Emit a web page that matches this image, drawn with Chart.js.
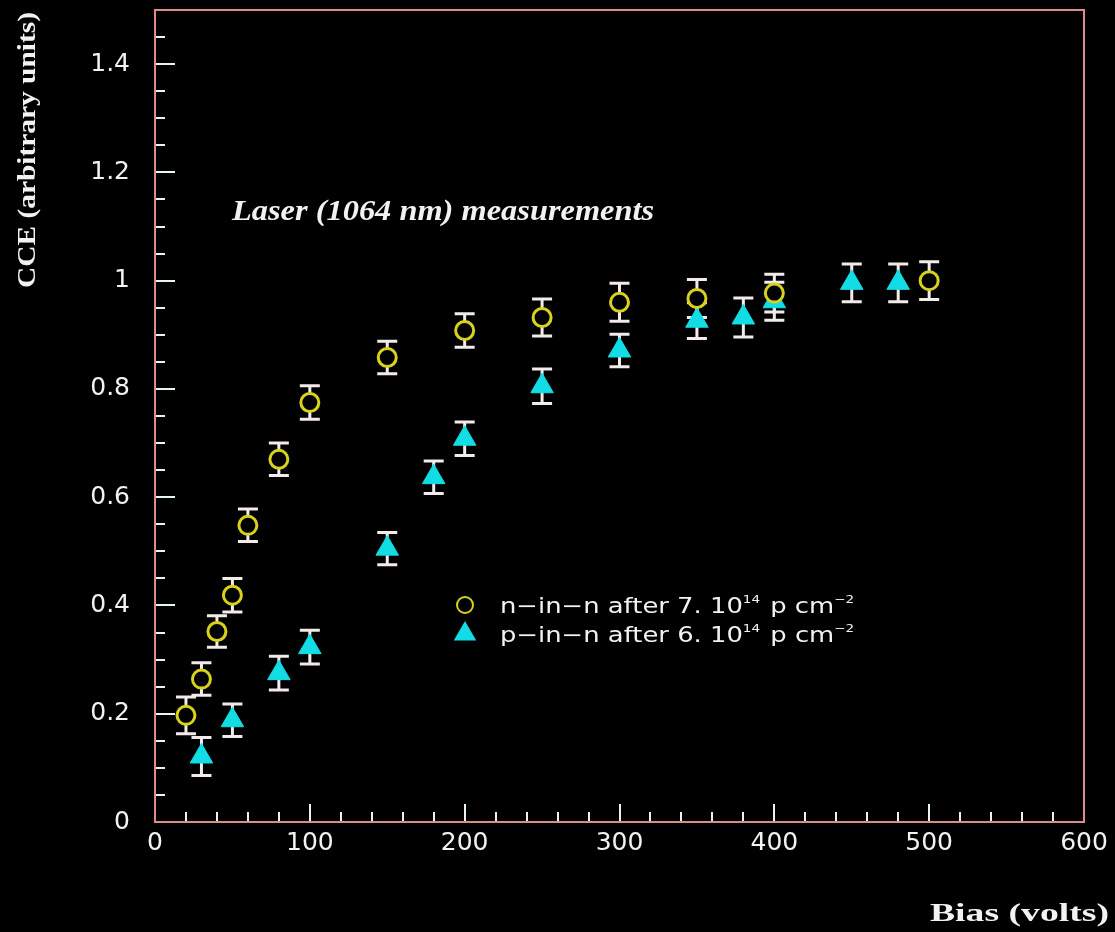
<!DOCTYPE html>
<html>
<head>
<meta charset="utf-8">
<script src="https://cdn.jsdelivr.net/npm/chart.js@4.4.1/dist/chart.umd.min.js"></script>
<style>
html, body { margin: 0; padding: 0; background: #000; }
#wrap { width: 1115px; height: 932px; }
</style>
</head>
<body>
<div id="wrap"><canvas id="cce"></canvas></div>
<script>
// n-in-n detector, after 7e14 p/cm2
var nBias = [20, 30, 40, 50, 60, 80, 100, 150, 200, 250, 300, 350, 400, 500];
var nCCE  = [0.197, 0.264, 0.352, 0.419, 0.548, 0.670, 0.775, 0.858, 0.908, 0.932, 0.960, 0.967, 0.977, 1.000];
var nErr  = [0.034, 0.030, 0.029, 0.031, 0.030, 0.030, 0.031, 0.030, 0.031, 0.034, 0.035, 0.035, 0.035, 0.035];

// p-in-n detector, after 6e14 p/cm2
var pBias = [30, 50, 80, 100, 150, 180, 200, 250, 300, 350, 380, 400, 450, 480];
var pCCE  = [0.121, 0.188, 0.275, 0.323, 0.505, 0.637, 0.708, 0.805, 0.871, 0.926, 0.932, 0.962, 0.996, 0.996];
var pErr  = [0.035, 0.030, 0.031, 0.031, 0.030, 0.030, 0.031, 0.032, 0.030, 0.033, 0.036, 0.035, 0.035, 0.035];

var xTicks = [0, 100, 200, 300, 400, 500, 600];
var yTicks = [0, 0.2, 0.4, 0.6, 0.8, 1, 1.2, 1.4];
var yTickLabels = ['0', '0.2', '0.4', '0.6', '0.8', '1', '1.2', '1.4'];
var xMinor = 20, yMinor = 0.05;

var YELLOW = '#d8d21c', CYAN = '#12dde4', BAR = '#f3eaea';
var FRAME = '#e08a8a', TICK = '#e6f4f4', LABEL = '#f2f2f2';

function pts(xs, ys, es) {
  return xs.map(function (x, i) { return { x: x, y: ys[i], err: es[i] }; });
}

// text drawn with a horizontal stretch factor
function wideText(ctx, s, x, y, sx) {
  ctx.save();
  ctx.translate(x, y);
  ctx.scale(sx, 1);
  ctx.fillText(s, 0, 0);
  ctx.restore();
  return ctx.measureText(s).width * sx;
}

// vertical error bars with caps, drawn under the markers
var errorBars = {
  id: 'errorBars',
  beforeDatasetsDraw: function (chart) {
    var ctx = chart.ctx, xs = chart.scales.x, ys = chart.scales.y;
    ctx.save();
    ctx.strokeStyle = BAR;
    ctx.lineWidth = 3;
    chart.data.datasets.forEach(function (ds) {
      ds.data.forEach(function (p) {
        var px = xs.getPixelForValue(p.x);
        var top = ys.getPixelForValue(p.y + p.err);
        var bot = ys.getPixelForValue(p.y - p.err);
        ctx.beginPath();
        ctx.moveTo(px, top); ctx.lineTo(px, bot);
        ctx.moveTo(px - 10, top); ctx.lineTo(px + 10, top);
        ctx.moveTo(px - 10, bot); ctx.lineTo(px + 10, bot);
        ctx.stroke();
      });
    });
    ctx.restore();
  }
};

// frame, inward ticks, axis titles, caption and legend
var decorations = {
  id: 'decorations',
  afterDraw: function (chart) {
    var ctx = chart.ctx, a = chart.chartArea, xs = chart.scales.x, ys = chart.scales.y;
    ctx.save();

    ctx.strokeStyle = TICK;
    ctx.lineWidth = 2;
    ctx.beginPath();
    for (var v = 0; v <= 600 + 1e-9; v += xMinor) {
      var px = Math.round(xs.getPixelForValue(v));
      var len = (Math.abs(v % 100) < 1e-6) ? 18 : 10;
      ctx.moveTo(px, a.bottom); ctx.lineTo(px, a.bottom - len);
    }
    for (var k = 0; k <= 30; k++) {
      var py = Math.round(ys.getPixelForValue(k * yMinor));
      var ylen = (k % 4 === 0) ? 20 : 10;
      ctx.moveTo(a.left, py); ctx.lineTo(a.left + ylen, py);
    }
    ctx.stroke();

    ctx.strokeStyle = FRAME;
    ctx.lineWidth = 2;
    ctx.strokeRect(a.left, a.top, a.right - a.left, a.bottom - a.top);

    // axis titles
    ctx.fillStyle = LABEL;
    ctx.font = 'bold 26px "Liberation Serif"';
    ctx.textAlign = 'left';
    ctx.textBaseline = 'alphabetic';
    var yt = 'CCE (arbitrary units)';
    var ytw = ctx.measureText(yt).width * 1.13;
    ctx.save();
    ctx.translate(35, 150 + ytw / 2);
    ctx.rotate(-Math.PI / 2);
    wideText(ctx, yt, 0, 0, 1.13);
    ctx.restore();
    var xt = 'Bias (volts)';
    wideText(ctx, xt, 1109 - ctx.measureText(xt).width * 1.45, 921, 1.45);

    // caption
    ctx.font = 'italic bold 30px "Liberation Serif"';
    wideText(ctx, 'Laser (1064 nm) measurements', 232, 220, 1.08);

    // legend
    var rows = [
      { ds: 0, y: 605, parts: ['n\u2212in\u2212n after 7. 10', '14', ' p cm', '\u22122'] },
      { ds: 1, y: 634, parts: ['p\u2212in\u2212n after 6. 10', '14', ' p cm', '\u22122'] }
    ];
    rows.forEach(function (r) {
      var ds = chart.data.datasets[r.ds];
      ctx.save();
      ctx.strokeStyle = ds.borderColor;
      ctx.fillStyle = ds.backgroundColor;
      Chart.helpers.drawPoint(ctx, {
        pointStyle: ds.pointStyle, rotation: 0,
        radius: r.ds === 0 ? 8 : 11, borderWidth: ds.borderWidth
      }, 465, r.y);
      ctx.restore();
      var x = 500;
      ctx.fillStyle = LABEL;
      r.parts.forEach(function (s, i) {
        var sup = i % 2 === 1;
        ctx.font = sup ? '11px "DejaVu Sans"' : '21px "DejaVu Sans"';
        x += wideText(ctx, s, x, r.y + (sup ? -2 : 8), 1.23) + (sup ? 2 : 0);
      });
    });

    ctx.restore();
  }
};

new Chart(document.getElementById('cce'), {
  type: 'scatter',
  data: {
    datasets: [
      {
        label: 'n-in-n after 7. 10^14 p cm^-2',
        data: pts(nBias, nCCE, nErr),
        pointStyle: 'circle',
        pointRadius: 9,
        borderWidth: 3,
        borderColor: YELLOW,
        backgroundColor: '#000'
      },
      {
        label: 'p-in-n after 6. 10^14 p cm^-2',
        data: pts(pBias, pCCE, pErr),
        pointStyle: 'triangle',
        pointRadius: 13,
        borderWidth: 1,
        borderColor: CYAN,
        backgroundColor: CYAN
      }
    ]
  },
  options: {
    responsive: true,
    maintainAspectRatio: false,
    animation: false,
    devicePixelRatio: 1,
    layout: { autoPadding: false, padding: { top: 10, right: 31, left: 0, bottom: 0 } },
    plugins: { legend: { display: false }, tooltip: { enabled: false } },
    scales: {
      x: {
        type: 'linear', min: 0, max: 600,
        afterBuildTicks: function (s) { s.ticks = xTicks.map(function (v) { return { value: v }; }); },
        afterFit: function (s) { s.height = 110; s.paddingLeft = 0; s.paddingRight = 0; },
        grid: { display: false },
        border: { display: false },
        ticks: { color: LABEL, font: { family: 'DejaVu Sans', size: 25 }, padding: -2, maxRotation: 0, autoSkip: false }
      },
      y: {
        type: 'linear', min: 0, max: 1.5,
        afterBuildTicks: function (s) { s.ticks = yTicks.map(function (v) { return { value: v }; }); },
        afterFit: function (s) { s.width = 155; s.paddingTop = 0; s.paddingBottom = 0; },
        grid: { display: false },
        border: { display: false },
        ticks: {
          color: LABEL, font: { family: 'DejaVu Sans', size: 25, lineHeight: 0.5 }, padding: 17,
          callback: function (v, i) { return yTickLabels[i]; }
        }
      }
    }
  },
  plugins: [errorBars, decorations]
});
</script>
</body>
</html>
